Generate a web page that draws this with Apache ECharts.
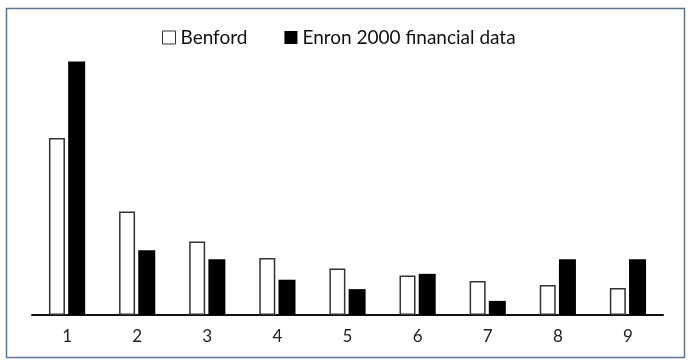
<!DOCTYPE html>
<html>
<head>
<meta charset="utf-8">
<script src="https://cdn.jsdelivr.net/npm/echarts@6/dist/echarts.min.js"></script>
<style>
html,body{margin:0;padding:0;background:#fff;}
#c{width:690px;height:363px;}
</style>
</head>
<body>
<div id="c"></div>
<script>
var categories = ['1','2','3','4','5','6','7','8','9'];
var benford = [30.1, 17.6, 12.5, 9.7, 7.9, 6.7, 5.8, 5.1, 4.6];
var enron = [43.1, 11.0, 9.5, 6.0, 4.4, 7.0, 2.4, 9.5, 9.5];

var chart = echarts.init(document.getElementById('c'));
var FONT = 'Lato';
chart.setOption({
  animation: false,
  backgroundColor: '#ffffff',
  graphic: [{
    type: 'rect',
    shape: {x: 6.5, y: 8.5, width: 678, height: 349},
    style: {fill: 'none', stroke: '#56779b', lineWidth: 1.5},
    silent: true,
    z: -1
  }],
  legend: {
    left: 157,
    top: 23,
    itemGap: 37,
    itemWidth: 13,
    itemHeight: 13,
    icon: 'rect',
    textStyle: {fontFamily: FONT, fontSize: 19, color: '#111'},
    data: [
      {name: 'Benford', itemStyle: {color: '#fff', borderColor: '#333', borderWidth: 1}},
      {name: 'Enron 2000 financial data', itemStyle: {color: '#000'}}
    ]
  },
  grid: {left: 32, right: 27, top: 21, bottom: 48, containLabel: false},
  xAxis: {
    type: 'category',
    data: categories,
    axisLine: {lineStyle: {color: '#111', width: 2}},
    axisTick: {show: false},
    axisLabel: {fontFamily: FONT, fontSize: 17, color: '#222', margin: 13}
  },
  yAxis: {
    type: 'value',
    min: 0,
    max: 50,
    show: false,
    splitLine: {show: false}
  },
  series: [
    {
      name: 'Benford',
      type: 'bar',
      data: benford,
      barWidth: 16,
      barGap: '20%',
      itemStyle: {color: '#fff', borderColor: '#333', borderWidth: 1.5}
    },
    {
      name: 'Enron 2000 financial data',
      type: 'bar',
      data: enron,
      barWidth: 17,
      itemStyle: {color: '#000'}
    }
  ]
});
</script>
</body>
</html>
